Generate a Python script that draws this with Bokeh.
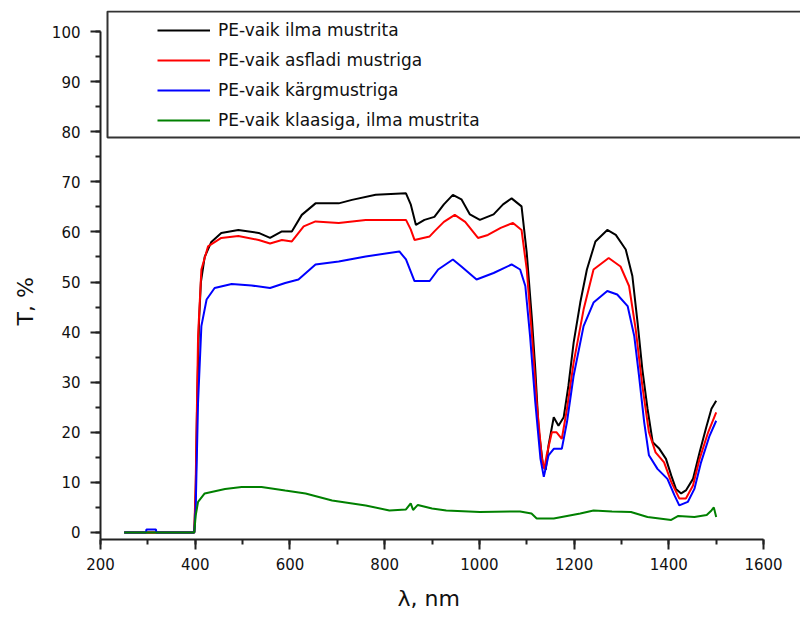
from bokeh.plotting import figure
from bokeh.models import Legend, LegendItem, BoxAnnotation, Range1d, FixedTicker, Title
from bokeh.embed import file_html
from bokeh.resources import INLINE

# ---- data ----
wl_black = [250, 398, 401, 404, 408, 412, 420, 434, 455, 491, 534, 558, 583, 604, 625, 654, 703, 731, 781, 845,
            855, 866, 884, 905, 925, 944, 962, 980, 1001, 1030, 1050, 1068, 1089, 1100, 1111, 1118, 1125, 1134,
            1140, 1146, 1157, 1167, 1178, 1188, 1199, 1213, 1227, 1245, 1270, 1288, 1309, 1323, 1334, 1344, 1355,
            1366, 1380, 1394, 1405, 1415, 1426, 1436, 1451, 1465, 1479, 1490, 1500]
t_black = [0, 0, 8, 26, 42, 50, 55, 58, 59.8, 60.4, 59.8, 58.8, 60.1, 60.1, 63.4, 65.7, 65.7, 66.4, 67.4, 67.7,
           65.5, 61.4, 62.4, 63, 65.5, 67.4, 66.5, 63.5, 62.4, 63.5, 65.5, 66.7, 65.1, 55.8, 42.5, 32.6, 20.7, 13.7,
           12.5, 17.4, 23, 21.3, 23, 29.3, 37.9, 45.9, 52.5, 58.1, 60.4, 59.4, 56.5, 51.2, 41.9, 32.6, 24.7,
           18, 16.7, 14.7, 11.4, 8.7, 7.8, 8.4, 10.7, 16, 21, 24.7, 26.3]

wl_red = [250, 398, 401, 406, 413, 427, 455, 491, 534, 558, 583, 604, 629, 654, 703, 760, 845, 855, 863, 895,
          905, 925, 948, 970, 997, 1018, 1045, 1071, 1089, 1100, 1111, 1121, 1132, 1137, 1142, 1153, 1163, 1174,
          1185, 1199, 1220, 1241, 1273, 1298, 1316, 1330, 1344, 1358, 1372, 1390, 1405, 1422, 1436, 1451, 1465,
          1483, 1500]
t_red = [0, 0, 10, 39.2, 52.5, 57.1, 58.8, 59.2, 58.4, 57.7, 58.4, 58.1, 61.1, 62.1, 61.8, 62.4, 62.4, 60.5, 58.4, 59.1,
         60.1, 62, 63.4, 62, 58.8, 59.4, 60.8, 61.8, 60.4, 52.5, 39.2, 26, 14.7, 12.7, 15.4, 20, 20, 18.7,
         24.7, 33.9, 44.5, 52.5, 54.8, 53.1, 49.2, 40.6, 29.3, 20, 16, 14, 10.1, 6.8, 6.8, 9.4, 14.7,
         20, 24]

wl_blue = [250, 296, 297, 317, 318, 398, 401, 406, 413, 424, 441, 477, 519, 558, 590, 618, 654, 703, 760, 831,
           845, 863, 895, 913, 944, 962, 994, 1030, 1068, 1086, 1097, 1107, 1118, 1129, 1136, 1146, 1157, 1174,
           1185, 1199, 1220, 1241, 1270, 1291, 1313, 1327, 1337, 1348, 1358, 1376, 1397, 1412, 1422, 1440, 1454,
           1468, 1486, 1500]
t_blue = [0, 0, 0.6, 0.6, 0, 0, 5, 26, 41.2, 46.5, 48.8, 49.6, 49.3, 48.8, 49.8, 50.5, 53.5, 54.1, 55.1, 56.1,
          54.5, 50.2, 50.2, 52.5, 54.5, 53.1, 50.5, 51.8, 53.5, 52.5, 49.2, 39.2, 26, 14.7, 11.1, 15.4, 16.7, 16.7,
          22.1, 31.3, 41.2, 45.9, 48.2, 47.5, 45.2, 39.2, 31.3, 22, 15.4, 12.7, 10.7, 7.4, 5.4, 6.1, 8.7,
          14, 19.3, 22.3]

wl_green = [250, 398, 401, 406, 420, 463, 498, 540, 590, 633, 689, 760, 810, 845, 855, 860, 870, 900, 930, 1001,
            1086, 1110, 1121, 1157, 1213, 1241, 1280, 1320, 1355, 1405, 1420, 1454, 1480, 1490, 1495, 1500]
t_green = [0, 0, 3.4, 6.1, 7.8, 8.7, 9.1, 9.1, 8.4, 7.8, 6.4, 5.4, 4.4, 4.6, 5.8, 4.5, 5.5, 4.8, 4.4, 4.1,
           4.2, 3.8, 2.8, 2.8, 3.8, 4.4, 4.2, 4.1, 3.1, 2.5, 3.3, 3.1, 3.5, 4.4, 5.0, 3.1]

labels = ["PE-vaik ilma mustrita", "PE-vaik asfladi mustriga", "PE-vaik kärgmustriga",
          "PE-vaik klaasiga, ilma mustrita"]
colors = ["#000000", "#ff0000", "#0000ff", "#008000"]
x_ticks = [200, 400, 600, 800, 1000, 1200, 1400, 1600]
y_ticks = [0, 10, 20, 30, 40, 50, 60, 70, 80, 90, 100]
x_title = "λ, nm"
y_title = "T, %"

FONT = "DejaVu Sans"

# frame spans the whole right/top of the canvas; axis lines limited with bounds
p = figure(width=800, height=621, output_backend="svg", toolbar_location=None,
           x_range=Range1d(200, 1678), y_range=Range1d(-1.4, 104.2),
           min_border_left=100, min_border_right=0, min_border_top=10, min_border_bottom=81)
p.outline_line_color = None
p.grid.visible = False
p.background_fill_color = "white"
p.border_fill_color = "white"

series = [(wl_black, t_black), (wl_red, t_red), (wl_blue, t_blue), (wl_green, t_green)]
renderers = []
for (xs, ys), c in zip(series, colors):
    r = p.line(xs, ys, line_color=c, line_width=2)
    renderers.append(r)

for ax in (p.xaxis[0], p.yaxis[0]):
    ax.axis_line_width = 2
    ax.axis_line_color = "#222222"
    ax.major_tick_line_width = 2
    ax.minor_tick_line_width = 2
    ax.major_tick_line_color = "#222222"
    ax.minor_tick_line_color = "#222222"
    ax.major_tick_out = 10
    ax.major_tick_in = 0
    ax.minor_tick_out = 5
    ax.minor_tick_in = 0
    ax.major_label_text_font = FONT
    ax.major_label_text_font_size = "15px"
    ax.major_label_text_color = "#111111"

p.xaxis[0].ticker = FixedTicker(ticks=x_ticks, minor_ticks=list(range(200, 1601, 100)))
p.yaxis[0].ticker = FixedTicker(ticks=y_ticks, minor_ticks=list(range(0, 101, 5)))
p.xaxis[0].bounds = (200, 1600)
p.yaxis[0].bounds = (-1.4, 100)
p.xaxis[0].major_label_standoff = 8
p.yaxis[0].major_label_standoff = 10

# axis titles as side-panel titles, shifted to where the reference has them
p.add_layout(Title(text=x_title, align="left", offset=297, standoff=22,
                   text_font=FONT, text_font_size="22px", text_font_style="normal",
                   text_color="#111111"), "below")
p.add_layout(Title(text=y_title, align="left", offset=214, standoff=21,
                   text_font=FONT, text_font_size="22px", text_font_style="normal",
                   text_color="#111111"), "left")

box = BoxAnnotation(left=107, right=810, top=11, bottom=137,
                    left_units="canvas", right_units="canvas", top_units="canvas", bottom_units="canvas",
                    fill_color="white", fill_alpha=1.0, line_color="#333333", line_alpha=1.0, line_width=2)
p.add_layout(box)

legend = Legend(items=[LegendItem(label=l, renderers=[r]) for l, r in zip(labels, renderers)],
                location=(57, 409), orientation="vertical",
                border_line_color=None, background_fill_alpha=0,
                padding=5, spacing=10, glyph_width=53, glyph_height=20, label_height=20,
                label_standoff=8, label_text_font=FONT, label_text_font_size="17px",
                label_text_color="#111111", margin=0)
p.add_layout(legend)

open("out.html", "w").write(file_html(p, INLINE))
